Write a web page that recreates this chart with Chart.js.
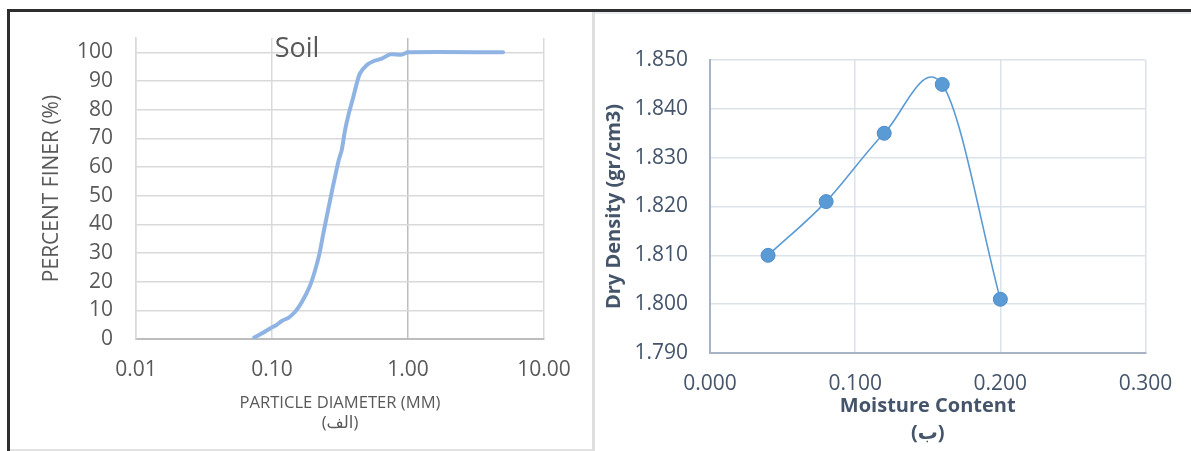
<!DOCTYPE html>
<html>
<head>
<meta charset="utf-8">
<title>Soil gradation and compaction</title>
<script src="https://cdn.jsdelivr.net/npm/chart.js@4.4.1/dist/chart.umd.min.js"></script>
<style>
  html, body { margin: 0; padding: 0; background: #ffffff; }
  #wrap { position: relative; width: 1191px; height: 451px; overflow: hidden; background: #ffffff; }
  #wrap canvas { position: absolute; top: 0; }
  .rule { position: absolute; }
</style>
</head>
<body>
<div id="wrap">
  <div class="rule" style="left:7px;top:9px;width:1184px;height:3px;background:#2e2e2e"></div>
  <div class="rule" style="left:7px;top:9px;width:3px;height:442px;background:#2e2e2e"></div>
  <div class="rule" style="left:595px;top:12px;width:596px;height:2px;background:#e8ecf2"></div>
  <div class="rule" style="left:592px;top:12px;width:3px;height:439px;background:#dedede"></div>
  <div class="rule" style="left:10px;top:449px;width:582px;height:2px;background:#e2e2e2"></div>
  <canvas id="sieve" width="594" height="451" style="left:0px"></canvas>
  <canvas id="proctor" width="597" height="451" style="left:594px"></canvas>
</div>
<script>
// Grain size distribution (sieve analysis)
const particleDiameter = [0.074, 0.086, 0.097, 0.108, 0.118, 0.132, 0.148, 0.165, 0.19, 0.207,
  0.223, 0.238, 0.252, 0.267, 0.29, 0.311, 0.325, 0.344, 0.364, 0.396,
  0.419, 0.443, 0.496, 0.556, 0.641, 0.738, 0.899, 1.0, 5.0];
const percentFiner = [0.5, 2.2, 3.7, 4.9, 6.3, 7.4, 9.5, 12.7, 18.5, 23.8,
  29.6, 36.6, 42.4, 48.3, 56.4, 62.8, 65.7, 72.7, 78.0, 84.4,
  89.0, 92.6, 95.5, 96.9, 97.8, 99.3, 99.2, 100, 100];
const diameterTicks = [0.01, 0.1, 1, 10];
const percentTicks = [0, 10, 20, 30, 40, 50, 60, 70, 80, 90, 100];

// Compaction test
const moistureContent = [0.04, 0.08, 0.12, 0.16, 0.20];
const dryDensity = [1.810, 1.821, 1.835, 1.845, 1.801];
const moistureTicks = [0, 0.1, 0.2, 0.3];
const densityTicks = [1.79, 1.80, 1.81, 1.82, 1.83, 1.84, 1.85];

const FONT = "'Open Sans', 'DejaVu Sans', sans-serif";
Chart.defaults.font.family = FONT;
Chart.defaults.animation = false;

// Floating chart title drawn over the plot, centred on the canvas
const floatingTitle = {
  id: 'floatingTitle',
  afterDraw(chart, args, opts) {
    if (!opts || !opts.text) return;
    const ctx = chart.ctx;
    ctx.save();
    ctx.font = opts.size + 'px ' + FONT;
    ctx.fillStyle = opts.color;
    ctx.textAlign = 'center';
    ctx.textBaseline = 'alphabetic';
    ctx.fillText(opts.text, chart.width / 2, opts.baseline);
    ctx.restore();
  }
};

// Uniform Catmull-Rom smoothing (spreadsheet-style smoothed line):
// interior handles are (next - prev) / 6, end handles a third of the end segment.
const uniformSmoothing = {
  id: 'uniformSmoothing',
  beforeDatasetDraw(chart, args) {
    const meta = args.meta;
    const line = meta.dataset;
    if (!line || meta.type !== 'line') return;
    line.updateControlPoints(chart.chartArea, meta.iScale.axis);
    const pts = meta.data;
    const n = pts.length;
    if (n < 2) return;
    for (let i = 0; i < n; i++) {
      const p = pts[i];
      if (i === 0) {
        const q = pts[1];
        p.cp1x = p.x; p.cp1y = p.y;
        p.cp2x = p.x + (q.x - p.x) / 3; p.cp2y = p.y + (q.y - p.y) / 3;
      } else if (i === n - 1) {
        const q = pts[n - 2];
        p.cp2x = p.x; p.cp2y = p.y;
        p.cp1x = p.x + (q.x - p.x) / 3; p.cp1y = p.y + (q.y - p.y) / 3;
      } else {
        const a = pts[i - 1], b = pts[i + 1];
        const dx = (b.x - a.x) / 6, dy = (b.y - a.y) / 6;
        p.cp1x = p.x - dx; p.cp1y = p.y - dy;
        p.cp2x = p.x + dx; p.cp2y = p.y + dy;
      }
    }
  }
};

const fixedTicks = list => scale => { scale.ticks = list.map(v => ({ value: v })); };

new Chart(document.getElementById('sieve'), {
  type: 'line',
  plugins: [floatingTitle],
  data: {
    datasets: [{
      label: 'Soil',
      data: particleDiameter.map((d, i) => ({ x: d, y: percentFiner[i] })),
      borderColor: '#8fb4e3',
      borderWidth: 4,
      pointRadius: 0,
      tension: 0.25,
      borderCapStyle: 'round',
      borderJoinStyle: 'round',
      fill: false
    }]
  },
  options: {
    responsive: false,
    layout: { padding: { left: 30, top: 38, right: 50, bottom: 8 } },
    plugins: {
      legend: { display: false },
      tooltip: { enabled: false },
      floatingTitle: { text: 'Soil', size: 27, color: '#595959', baseline: 57 }
    },
    scales: {
      x: {
        type: 'logarithmic',
        min: 0.01,
        max: 10,
        afterBuildTicks: fixedTicks(diameterTicks),
        afterFit: s => { s.height = 104; },
        grid: {
          drawTicks: false,
          lineWidth: 1.5,
          color: c => (c.tick && c.tick.value === 1 ? '#bdbdbd' : '#d9d9d9')
        },
        border: { color: '#bdbdbd', width: 2 },
        ticks: {
          autoSkip: false,
          maxRotation: 0,
          padding: 18,
          color: '#595959',
          font: { size: 21 },
          callback: v => Number(v).toFixed(2)
        },
        title: {
          display: true,
          text: ['PARTICLE DIAMETER (MM)', '(الف)'],
          color: '#595959',
          font: { size: 16.6, lineHeight: 1.205 },
          padding: { top: 0, bottom: 10 }
        }
      },
      y: {
        min: 0,
        max: 105,
        afterBuildTicks: fixedTicks(percentTicks),
        afterFit: s => { s.width = 106; },
        grid: { drawTicks: false, lineWidth: 1.5, color: '#d9d9d9' },
        border: { color: '#d9d9d9', width: 1.5 },
        ticks: { padding: 23, color: '#595959', font: { size: 21 } },
        title: {
          display: true,
          text: 'PERCENT FINER (%)',
          color: '#595959',
          font: { size: 21, lineHeight: 1.2 },
          padding: { top: 9, bottom: 0 }
        }
      }
    }
  }
});

new Chart(document.getElementById('proctor'), {
  type: 'line',
  plugins: [uniformSmoothing],
  data: {
    datasets: [{
      label: 'Dry Density',
      data: moistureContent.map((w, i) => ({ x: w, y: dryDensity[i] })),
      borderColor: '#5b9bd5',
      borderWidth: 1.6,
      backgroundColor: '#5b9bd5',
      pointBackgroundColor: '#5b9bd5',
      pointBorderColor: '#4f8dc9',
      pointBorderWidth: 1,
      pointRadius: 7,
      tension: 0.5,
      fill: false
    }]
  },
  options: {
    responsive: false,
    layout: { padding: { left: 4, top: 60, right: 43, bottom: 4 } },
    plugins: { legend: { display: false }, tooltip: { enabled: false } },
    scales: {
      x: {
        type: 'linear',
        min: 0,
        max: 0.3,
        afterBuildTicks: fixedTicks(moistureTicks),
        afterFit: s => { s.height = 94; },
        grid: { drawTicks: false, lineWidth: 1.5, color: '#dce2ea' },
        border: { color: '#a9b3c6', width: 2 },
        ticks: {
          autoSkip: false,
          maxRotation: 0,
          padding: 18.7,
          color: '#44546a',
          font: { size: 21 },
          callback: v => Number(v).toFixed(3)
        },
        title: {
          display: true,
          text: ['Moisture Content', '(ب)'],
          color: '#44546a',
          font: { size: 20, weight: 'bold', lineHeight: 1.35 },
          padding: { top: 0, bottom: 0.5 }
        }
      },
      y: {
        min: 1.79,
        max: 1.85,
        afterBuildTicks: fixedTicks(densityTicks),
        afterFit: s => { s.width = 112; },
        grid: { drawTicks: false, lineWidth: 1.5, color: '#dce2ea' },
        border: { color: '#a9b3c6', width: 2 },
        ticks: {
          padding: 22,
          color: '#44546a',
          font: { size: 21 },
          callback: v => Number(v).toFixed(3)
        },
        title: {
          display: true,
          text: 'Dry Density (gr/cm3)',
          color: '#44546a',
          font: { size: 20, weight: 'bold', lineHeight: 1.2 },
          padding: { top: 4, bottom: 0 }
        }
      }
    }
  }
});
</script>
</body>
</html>
